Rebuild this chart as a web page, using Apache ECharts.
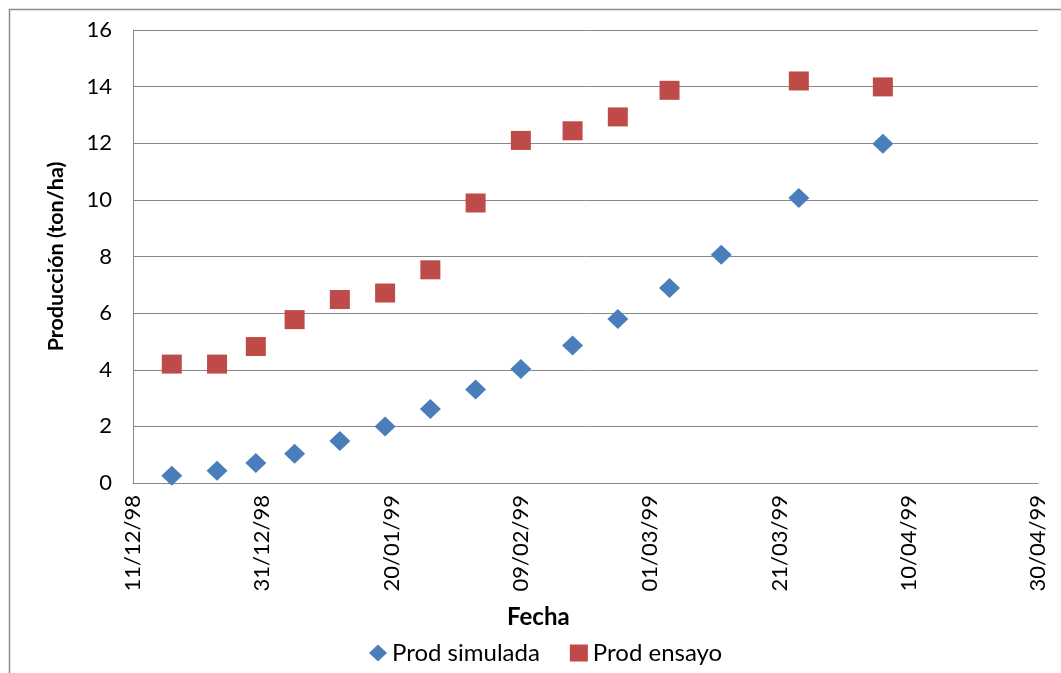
<!DOCTYPE html>
<html>
<head>
<meta charset="utf-8">
<script src="https://cdn.jsdelivr.net/npm/echarts@6/dist/echarts.min.js"></script>
<style>
html,body{margin:0;padding:0;background:#fff;}
#chart{width:1061px;height:673px;}
</style>
</head>
<body>
<div id="chart"></div>
<script>
// Data
var startDate = '1998-12-11';
var endDate = '1999-04-30';
var dates = ['1998-12-17','1998-12-24','1998-12-30','1999-01-05','1999-01-12','1999-01-19','1999-01-26','1999-02-02','1999-02-09','1999-02-17','1999-02-24','1999-03-04','1999-03-12','1999-03-24','1999-04-06'];
var prodSimulada = [0.26,0.43,0.71,1.03,1.48,2.0,2.61,3.3,4.03,4.86,5.79,6.89,8.06,10.07,11.98];
var prodEnsayoDates = ['1998-12-17','1998-12-24','1998-12-30','1999-01-05','1999-01-12','1999-01-19','1999-01-26','1999-02-02','1999-02-09','1999-02-17','1999-02-24','1999-03-04','1999-03-24','1999-04-06'];
var prodEnsayo = [4.2,4.2,4.82,5.77,6.48,6.71,7.53,9.89,12.1,12.44,12.93,13.87,14.2,13.99];
var yTicks = [0,2,4,6,8,10,12,14,16];

function dayOffset(s){
  var p = s.split('-');
  var a = startDate.split('-');
  return Math.round((Date.UTC(+p[0],+p[1]-1,+p[2]) - Date.UTC(+a[0],+a[1]-1,+a[2]))/86400000);
}
function fmt(off){
  var a = startDate.split('-');
  var d = new Date(Date.UTC(+a[0],+a[1]-1,+a[2]) + off*86400000);
  var dd = ('0'+d.getUTCDate()).slice(-2), mm = ('0'+(d.getUTCMonth()+1)).slice(-2), yy = ('0'+(d.getUTCFullYear()%100)).slice(-2);
  return dd+'/'+mm+'/'+yy;
}
var xMax = dayOffset(endDate);

var FONT = 'Lato';
var chart = echarts.init(document.getElementById('chart'));
chart.setOption({
  animation:false,
  backgroundColor:'#fff',
  textStyle:{fontFamily:FONT},
  graphic:[{type:'rect',shape:{x:9.5,y:9.5,width:1070,height:670},style:{fill:'none',stroke:'#8c8c8c',lineWidth:1.5},silent:true}],
  title:{text:'Fecha',left:502,top:600,textStyle:{fontFamily:FONT,fontSize:24,fontWeight:'bold',color:'#000'}},
  legend:{
    left:364,top:636,itemGap:30,itemWidth:18,itemHeight:17,
    textStyle:{fontFamily:FONT,fontSize:24,color:'#000'},
    data:[{name:'Prod simulada',icon:'diamond'},{name:'Prod ensayo',icon:'rect'}]
  },
  grid:{left:133,right:23,top:30,bottom:190,containLabel:false},
  xAxis:{
    type:'value',min:0,max:xMax,interval:20,
    axisLine:{show:true,lineStyle:{color:'#888',width:1}},
    axisTick:{show:false},
    splitLine:{show:false},
    axisLabel:{rotate:90,margin:12,fontFamily:FONT,fontSize:22,color:'#000',formatter:function(v){return fmt(v);}}
  },
  yAxis:{
    type:'value',min:yTicks[0],max:yTicks[yTicks.length-1],interval:2,
    name:'Producción (ton/ha)',nameLocation:'middle',nameGap:66,
    nameTextStyle:{fontFamily:FONT,fontSize:21.5,fontWeight:'bold',color:'#000'},
    axisLine:{show:true,lineStyle:{color:'#888',width:1}},
    axisTick:{show:false},
    splitLine:{show:true,lineStyle:{color:'#888',width:1}},
    axisLabel:{margin:21,fontFamily:FONT,fontSize:22,color:'#000'}
  },
  series:[
    {name:'Prod simulada',type:'scatter',symbol:'diamond',symbolSize:[21,20],
     itemStyle:{color:'#4a7ebb',opacity:1},
     data:dates.map(function(d,i){return [dayOffset(d),prodSimulada[i]];})},
    {name:'Prod ensayo',type:'scatter',symbol:'rect',symbolSize:[20,19],
     itemStyle:{color:'#be4b48',opacity:1},
     data:prodEnsayoDates.map(function(d,i){return [dayOffset(d),prodEnsayo[i]];})}
  ]
});
</script>
</body>
</html>
